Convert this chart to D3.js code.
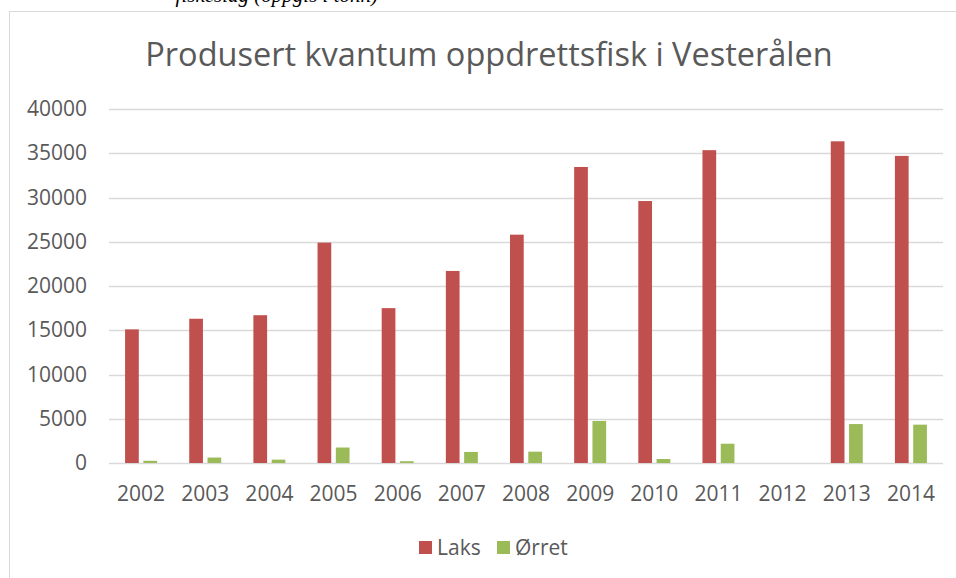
<!DOCTYPE html>
<html>
<head>
<meta charset="utf-8">
<script src="https://cdn.jsdelivr.net/npm/d3@7"></script>
<style>
  body { margin: 0; background: #fff; }
  text { font-family: "Open Sans", sans-serif; fill: #595959; }
</style>
</head>
<body>
<div id="chart"></div>
<script>
// chart data
const years = ["2002", "2003", "2004", "2005", "2006", "2007", "2008", "2009", "2010", "2011", "2012", "2013", "2014"];
const seriesNames = ["Laks", "Ørret"];
const laks = [15100, 16300, 16700, 24900, 17500, 21700, 25800, 33450, 29600, 35350, 0, 36350, 34700];
const orret = [250, 620, 380, 1750, 200, 1250, 1280, 4750, 450, 2180, 0, 4400, 4330];
const yTicks = [0, 5000, 10000, 15000, 20000, 25000, 30000, 35000, 40000];
const colors = ["#C0504D", "#9BBB59"];

const width = 956, height = 578;
const margin = { top: 109, right: 12, bottom: 115, left: 109 };

const svg = d3.select("#chart").append("svg")
  .attr("width", width)
  .attr("height", height);

// clipped caption from the page above the chart
svg.append("text")
  .attr("x", 378)
  .attr("y", 2)
  .attr("text-anchor", "end")
  .style("font-family", "'Liberation Serif', serif")
  .style("font-style", "italic")
  .style("font-size", "21px")
  .style("fill", "#000")
  .text("fiskeslag (oppgis i tonn)");

// chart area border
svg.append("rect")
  .attr("x", 9.5)
  .attr("y", 11.5)
  .attr("width", 1000)
  .attr("height", 700)
  .attr("fill", "#fff")
  .attr("stroke", "#d9d9d9")
  .attr("stroke-width", 1);

svg.append("text")
  .attr("x", 489)
  .attr("y", 66)
  .attr("text-anchor", "middle")
  .style("font-size", "32.5px")
  .text("Produsert kvantum oppdrettsfisk i Vesterålen");

const x = d3.scaleBand()
  .domain(years)
  .range([margin.left, 943]);

const xSub = d3.scaleBand()
  .domain(seriesNames)
  .range([x.bandwidth() / 2 - 16, x.bandwidth() / 2 + 16])
  .paddingInner(0.25);

const y = d3.scaleLinear()
  .domain([0, 40000])
  .range([463, margin.top]);

// gridlines
svg.append("g")
  .selectAll("line")
  .data(yTicks)
  .join("line")
  .attr("x1", margin.left)
  .attr("x2", 943)
  .attr("y1", d => Math.round(y(d)) + 0.5)
  .attr("y2", d => Math.round(y(d)) + 0.5)
  .attr("stroke", "#d9d9d9")
  .attr("stroke-width", 1.5);

// y axis labels
const yAxis = svg.append("g")
  .attr("transform", `translate(${margin.left},0)`)
  .call(d3.axisLeft(y).tickValues(yTicks).tickSize(0).tickPadding(22).tickFormat(d3.format("d")));
yAxis.select(".domain").remove();
yAxis.selectAll("text")
  .style("font-family", "'Open Sans', sans-serif")
  .style("font-size", "21px")
  .attr("fill", "#595959");

// x axis labels
const xAxis = svg.append("g")
  .attr("transform", "translate(0,463)")
  .call(d3.axisBottom(x).tickSize(0).tickPadding(23));
xAxis.select(".domain").remove();
xAxis.selectAll("text")
  .style("font-family", "'Open Sans', sans-serif")
  .style("font-size", "21px")
  .attr("fill", "#595959");

// bars
const rows = years.map((yr, i) => ({ year: yr, values: [laks[i], orret[i]] }));

svg.append("g")
  .selectAll("g")
  .data(rows)
  .join("g")
  .attr("transform", d => `translate(${x(d.year)},0)`)
  .selectAll("rect")
  .data(d => d.values.map((v, j) => ({ name: seriesNames[j], value: v, color: colors[j] })))
  .join("rect")
  .attr("x", d => xSub(d.name))
  .attr("y", d => y(d.value))
  .attr("width", xSub.bandwidth())
  .attr("height", d => y(0) - y(d.value))
  .attr("fill", d => d.color);

// legend
const legend = svg.append("g")
  .attr("transform", "translate(419,541)");

const legendX = [0, 78];
seriesNames.forEach((name, i) => {
  legend.append("rect")
    .attr("x", legendX[i])
    .attr("y", 0)
    .attr("width", 13)
    .attr("height", 13)
    .attr("fill", colors[i]);
  legend.append("text")
    .attr("x", legendX[i] + 18)
    .attr("y", 14)
    .style("font-size", "21px")
    .text(name);
});
</script>
</body>
</html>
